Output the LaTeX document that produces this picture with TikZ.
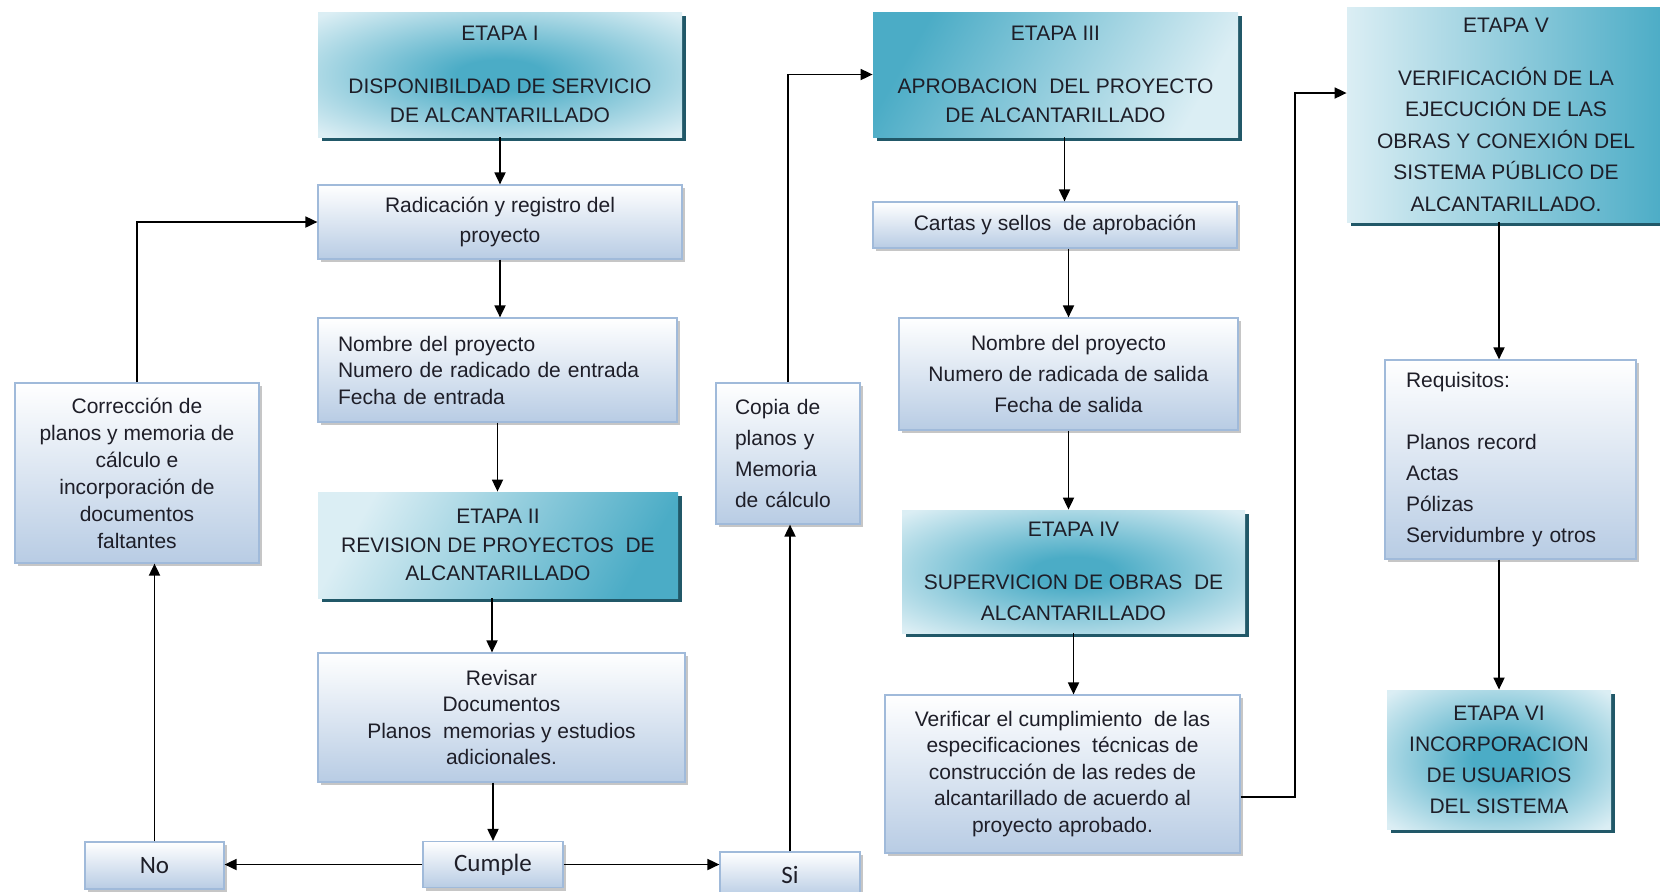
\documentclass[tikz,border=0pt]{standalone}
\usepackage{fontspec}
\setmainfont{Liberation Sans}
\newfontfamily\calibfont{Carlito}
\usetikzlibrary{arrows.meta,shadows}

\definecolor{aqdark}{RGB}{75,172,198}
\definecolor{aqlight}{RGB}{219,238,244}
\definecolor{aqshadow}{RGB}{33,88,104}
\definecolor{boxblue}{RGB}{184,204,228}
\definecolor{boxedge}{RGB}{160,186,218}
\definecolor{txt}{RGB}{30,30,40}

\pgfdeclareradialshading{etapaglow}{\pgfpoint{0bp}{0bp}}{color(0bp)=(aqdark); color(6bp)=(aqdark); color(34bp)=(aqlight); color(50bp)=(aqlight)}

\begin{document}
\begin{tikzpicture}[x=0.5pt,y=-0.5pt]

% definitions
\tikzstyle{box} = [rectangle, draw=boxedge, line width=0.6pt, top color=white, bottom color=boxblue, text=txt, align=center, inner sep=2pt, font=\fontsize{10.5}{13.25}\selectfont, drop shadow={shadow xshift=1.5pt, shadow yshift=-1.5pt, fill=gray, opacity=0.45}]
\tikzstyle{etapa} = [rectangle, draw=none, text=txt, align=center, inner sep=2pt, font=\fontsize{10.5}{14.5}\selectfont, drop shadow={shadow xshift=2pt, shadow yshift=-2pt, fill=aqshadow, opacity=1}]
\tikzstyle{glow} = [etapa, shade, shading=etapaglow]
\tikzstyle{small} = [box, font=\calibfont\fontsize{12.5}{15}\selectfont]
\tikzstyle{arrow} = [-{Triangle[length=6pt,width=5.5pt]}, line width=0.9pt]

\useasboundingbox (0,0) rectangle (1660,891);

% the graph
\node (etapaI) [glow, minimum width=182pt, minimum height=62.5pt] at (500,74.5) {ETAPA I\\[12pt]DISPONIBILDAD DE SERVICIO\\DE ALCANTARILLADO};
\node (rad) [box, minimum width=182pt, minimum height=37pt, font=\fontsize{10.5}{15}\selectfont] at (500,222) {Radicación y registro del\\proyecto};
\node (nomI) [box, align=left, text width=159.5pt, inner xsep=10pt, minimum height=52pt] at (497.5,370) {Nombre del proyecto\\Numero de radicado de entrada\\Fecha de entrada};
\node (etapaII) [etapa, top color=aqlight, bottom color=aqdark, shading angle=60, minimum width=180pt, minimum height=53pt, font=\fontsize{10.5}{14.25}\selectfont] at (498,545) {ETAPA II\\REVISION DE PROYECTOS\ \ DE\\ALCANTARILLADO};
\node (revisar) [box, minimum width=183.5pt, minimum height=64.5pt] at (501.5,717.5) {Revisar\\Documentos\\Planos\ \ memorias y estudios\\adicionales.};
\node (cumple) [small, minimum width=70pt, minimum height=23pt] at (493,864.5) {Cumple};
\node (no) [small, minimum width=69.5pt, minimum height=23.5pt] at (154.5,865.5) {No};
\node (si) [small, minimum width=70pt, minimum height=22.5pt] at (790,874.5) {Si};
\node (corr) [box, minimum width=122pt, minimum height=90pt, font=\fontsize{10.5}{13.5}\selectfont] at (137,473) {Corrección de\\planos y memoria de\\cálculo e\\incorporación de\\documentos\\faltantes};
\node (copia) [box, align=left, text width=53pt, inner xsep=9.5pt, minimum height=70.5pt, font=\fontsize{10.5}{15.35}\selectfont] at (788,453.5) {Copia de\\planos y\\Memoria\\de cálculo};

\node (etapaIII) [etapa, top color=aqdark, bottom color=aqlight, shading angle=60, minimum width=182.5pt, minimum height=62.5pt] at (1055.5,74.5) {ETAPA III\\[12pt]APROBACION\ \ DEL PROYECTO\\DE ALCANTARILLADO};
\node (cartas) [box, minimum width=182pt, minimum height=23pt] at (1055,225) {Cartas y sellos\ \ de aprobación};
\node (nomIII) [box, minimum width=169.5pt, minimum height=56pt, font=\fontsize{10.5}{15.3}\selectfont] at (1068.5,374) {Nombre del proyecto\\Numero de radicada de salida\\Fecha de salida};
\node (etapaIV) [glow, minimum width=171.5pt, minimum height=61.5pt, font=\fontsize{10.5}{15.5}\selectfont] at (1073.5,571.5) {ETAPA IV\\[11pt]SUPERVICION DE OBRAS\ \ DE\\ALCANTARILLADO};
\node (verif) [box, minimum width=177.5pt, minimum height=79pt] at (1062.5,774) {Verificar el cumplimiento\ \ de las\\especificaciones\ \ técnicas de\\construcción de las redes de\\alcantarillado de acuerdo al\\proyecto aprobado.};

\node (etapaV) [etapa, left color=aqlight, right color=aqdark, minimum width=159pt, minimum height=107.5pt, font=\fontsize{10.5}{15.75}\selectfont] at (1506,114.5) {ETAPA V\\[10.75pt]VERIFICACIÓN DE LA\\EJECUCIÓN DE LAS\\OBRAS Y CONEXIÓN DEL\\SISTEMA PÚBLICO DE\\ALCANTARILLADO.};
\node (req) [box, align=left, text width=104.5pt, inner xsep=10.5pt, minimum height=99.5pt, font=\fontsize{10.5}{15.5}\selectfont] at (1510.5,459.5) {Requisitos:\\[15.5pt]Planos record\\Actas\\Pólizas\\Servidumbre y otros};
\node (etapaVI) [glow, minimum width=112pt, minimum height=69.5pt, font=\fontsize{10.5}{15.5}\selectfont] at (1499,759.5) {ETAPA VI\\INCORPORACION\\DE USUARIOS\\DEL SISTEMA};

\coordinate (bend) at (1295,797);


\draw [arrow] (etapaI) -- (rad);
\draw [arrow] (rad.south) -- (rad.south |- nomI.north);
\draw [arrow] (nomI.south) -- (nomI.south |- etapaII.north);
\draw [arrow] ([xshift=-3pt]etapaII.south) -- ([xshift=-3pt]etapaII.south |- revisar.north);
\draw [arrow] (revisar.south -| cumple.north) -- (cumple.north);

\draw [arrow] (cumple.west) -- (cumple.west -| no.east);
\draw [arrow] (cumple.east) -- (cumple.east -| si.west);
\draw [arrow] (no.north) -- (no.north |- corr.south);
\draw [arrow] (corr.north) |- (rad.west);
\draw [arrow] (si.north) -- (si.north |- copia.south);
\draw [arrow] (copia.north) |- (etapaIII.west);

\draw [arrow] ([xshift=4.5pt]etapaIII.south) -- ([xshift=4.5pt]etapaIII.south |- cartas.north);
\draw [arrow] (cartas.south -| nomIII.north) -- (nomIII.north);
\draw [arrow] (nomIII.south) -- (nomIII.south |- etapaIV.north);
\draw [arrow] (etapaIV.south) -- (etapaIV.south |- verif.north);
\draw [arrow] (verif.east |- bend) -- (bend) |- ([yshift=10.75pt]etapaV.west);

\draw [arrow] (etapaV.south -| etapaVI.north) -- (req.north -| etapaVI.north);
\draw [arrow] (req.south -| etapaVI.north) -- (etapaVI.north);

\end{tikzpicture}
\end{document}
